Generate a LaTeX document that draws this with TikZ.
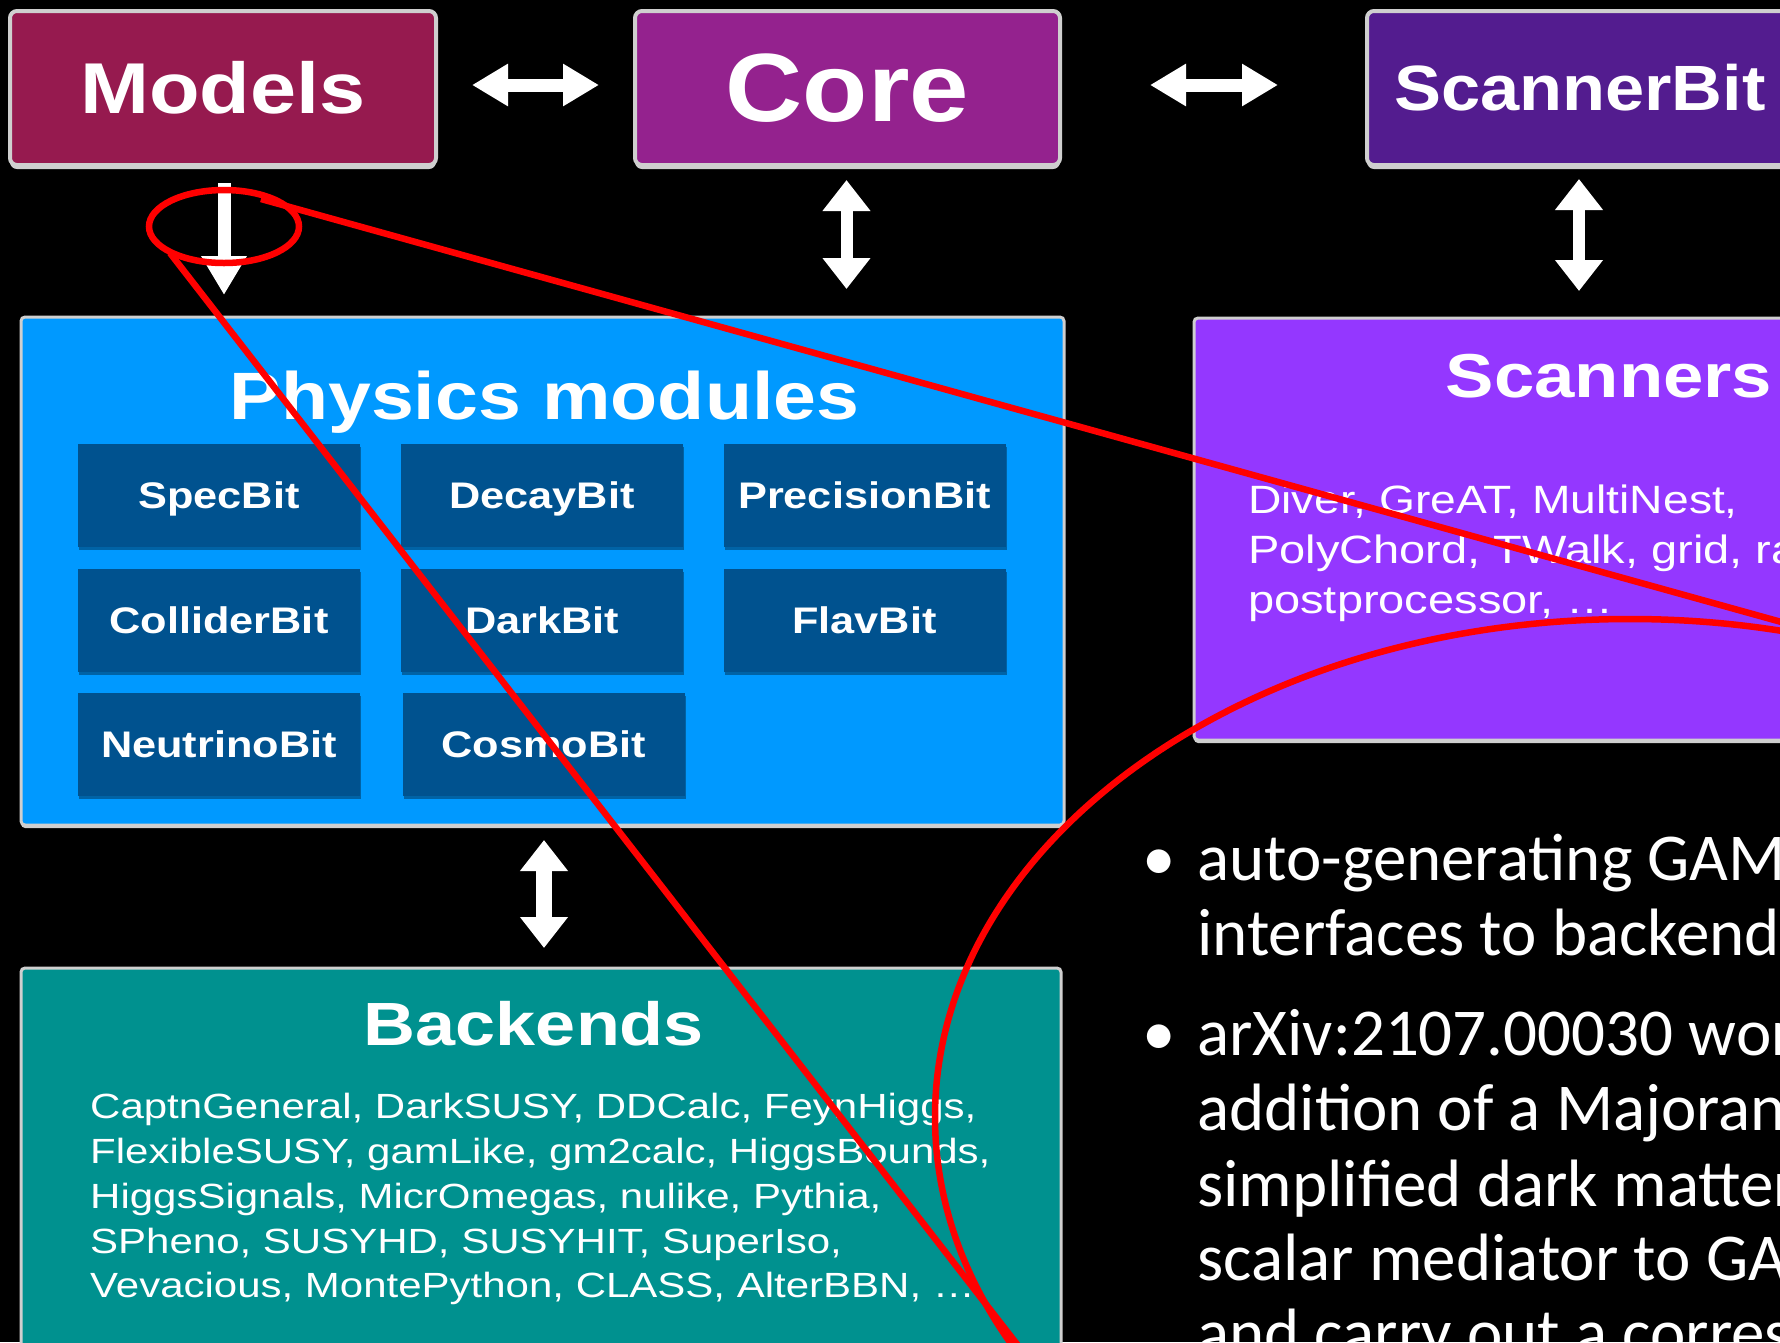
\documentclass[tikz,border=0pt]{standalone}
\usepackage{fontspec}
\setmainfont{Liberation Sans}
\newfontfamily\calib{Carlito}
\usetikzlibrary{arrows.meta,shadows,calc,shapes.geometric}
\definecolor{modelsC}{HTML}{961A4F}
\definecolor{coreC}{HTML}{94228E}
\definecolor{sbitC}{HTML}{531C8F}
\definecolor{physC}{HTML}{0099FF}
\definecolor{modC}{HTML}{00528F}
\definecolor{scanC}{HTML}{9437FF}
\definecolor{backC}{HTML}{00918F}
\definecolor{edgegray}{HTML}{CFCFCF}
\definecolor{lensred}{HTML}{FF0000}
\newcommand{\hstr}[2]{\scalebox{#1}[1]{#2}}
\newcommand{\fsz}[1]{\fontsize{#1}{#1}\selectfont}
\begin{document}
\begin{tikzpicture}[x=1pt,y=-1pt,
  topbox/.style={draw=edgegray, line width=4pt, rounded corners=7pt, inner sep=0pt, outer sep=0pt,
    text=white, minimum height=154pt,
    drop shadow={shadow xshift=0pt,shadow yshift=-4pt,opacity=1,fill=edgegray}},
  bigbox/.style={draw=edgegray, line width=3pt, rounded corners=4pt, inner sep=0pt, outer sep=0pt,
    drop shadow={shadow xshift=0pt,shadow yshift=-3pt,opacity=1,fill=edgegray}},
  modbox/.style={fill=modC, minimum width=282pt, minimum height=103pt, inner sep=0pt, outer sep=0pt,
    text=white, text depth=0pt,
    drop shadow={shadow xshift=1pt,shadow yshift=-3pt,opacity=0.35,fill=black},
    font=\fsz{37}\bfseries},
  ttl/.style={anchor=base, text=white, inner sep=0pt},
  bodyline/.style={anchor=base west, text=white, inner sep=0pt},
  bulletline/.style={anchor=base west, text=white, inner sep=0pt, font=\calib\fsz{67}},
  hfat/.style={draw=white, line width=13pt, {Triangle[length=36pt,width=40pt]}-{Triangle[length=36pt,width=40pt]}},
  vfat/.style={draw=white, line width=12pt, {Triangle[length=31pt,width=46pt]}-{Triangle[length=31pt,width=46pt]}},
  downfat/.style={draw=white, line width=13pt, -{Triangle[length=39pt,width=43pt]}},
  lens/.style={draw=lensred, line width=6.5pt}
]
\useasboundingbox (0,0) rectangle (1780,1342);
\clip (0,0) rectangle (1780,1342);
\fill[black] (0,0) rectangle (1780,1342);

% top row
\node[topbox, fill=modelsC, minimum width=426pt] (models) at (223,88) {\fsz{72}\bfseries\hstr{1.15}{Models}};
\node[topbox, fill=coreC, minimum width=425pt] (core) at (847.5,88) {\fsz{97}\bfseries\hstr{1.1}{Core}};
\node[topbox, fill=sbitC, minimum width=426pt] (sbit) at (1580,88) {\fsz{64}\bfseries\hstr{1.1}{ScannerBit}};

% big boxes
\node[bigbox, fill=physC, minimum width=1043pt, minimum height=508pt] (phys) at (542.5,571) {};
\node[bigbox, fill=scanC, minimum width=706pt, minimum height=422pt] (scan) at (1547,529) {};
\node[bigbox, fill=backC, minimum width=1040pt, minimum height=432pt] (back) at (541,1184) {};

% physics modules
\node[ttl, font=\fsz{67}\bfseries] (physT) at (544.5,419) {\hstr{1.15}{Physics modules}};
\node[modbox] (m1) at (219,495.5) {\hstr{1.17}{SpecBit}};
\node[modbox] (m2) at (542,495.5) {\hstr{1.17}{DecayBit}};
\node[modbox] (m3) at (864.5,495.5) {\hstr{1.17}{PrecisionBit}};
\node[modbox] (m4) at (219,620) {\hstr{1.17}{ColliderBit}};
\node[modbox] (m5) at (542,620) {\hstr{1.17}{DarkBit}};
\node[modbox] (m6) at (864.5,620) {\hstr{1.17}{FlavBit}};
\node[modbox] (m7) at (219,744.5) {\hstr{1.17}{NeutrinoBit}};
\node[modbox] (m8) at (543.5,744.5) {\hstr{1.17}{CosmoBit}};

% scanners
\node[ttl, font=\fsz{62}\bfseries] (scanT) at (1609,397) {\hstr{1.17}{Scanners}};
\node[bodyline, font=\fsz{39.5}] (s1) at (1248,513) {\hstr{1.17}{Diver, GreAT, MultiNest,}};
\node[bodyline, font=\fsz{39.5}] (s2) at (1248,563) {\hstr{1.19}{PolyChord, TWalk, grid, random,}};
\node[bodyline, font=\fsz{39.5}] (s3) at (1248,613) {\hstr{1.19}{postprocessor, …}};

% backends
\node[ttl, font=\fsz{61}\bfseries] (backT) at (534,1045) {\hstr{1.18}{Backends}};
\node[bodyline, font=\fsz{35}] (b1) at (90,1118) {\hstr{1.2}{CaptnGeneral, DarkSUSY, DDCalc, FeynHiggs,}};
\node[bodyline, font=\fsz{35}] (b2) at (90,1163) {\hstr{1.2}{FlexibleSUSY, gamLike, gm2calc, HiggsBounds,}};
\node[bodyline, font=\fsz{35}] (b3) at (90,1208) {\hstr{1.2}{HiggsSignals, MicrOmegas, nulike, Pythia,}};
\node[bodyline, font=\fsz{35}] (b4) at (90,1253) {\hstr{1.2}{SPheno, SUSYHD, SUSYHIT, SuperIso,}};
\node[bodyline, font=\fsz{35}] (b5) at (90,1297) {\hstr{1.2}{Vevacious, MontePython, CLASS, AlterBBN, …}};

% arrows
\draw[hfat, shorten <=36pt, shorten >=36pt] ([yshift=3pt]models.east) -- ([yshift=3pt]core.west);
\draw[hfat, shorten <=90pt, shorten >=89pt] ([yshift=3pt]core.east) -- ([yshift=3pt]sbit.west);
\draw[downfat, shorten <=18pt, shorten >=22pt] ([xshift=1pt]models.south) -- ([xshift=1pt]models.south |- phys.north);
\draw[vfat, shorten <=15pt, shorten >=28pt] ([xshift=-1pt]core.south) -- ([xshift=-1pt]core.south |- phys.north);
\draw[vfat, shorten <=14pt, shorten >=27pt] ([xshift=-1pt]sbit.south) -- ([xshift=-1pt]sbit.south |- scan.north);
\draw[vfat, line width=16pt, shorten <=15pt, shorten >=20pt] ([xshift=1.5pt]phys.south) -- ([xshift=1.5pt]phys.south |- back.north);

% bullets
\node[bulletline, anchor=base] (d1) at (1159,880) {•};
\node[bulletline] (t1) at (1197,880) {auto-generating GAMBIT};
\node[bulletline] (t2) at (1197,955) {interfaces to backends};
\node[bulletline, anchor=base] (d2) at (1159,1055) {•};
\node[bulletline] (t3) at (1197,1055) {arXiv:2107.00030 works on};
\node[bulletline] (t4) at (1197,1130) {addition of a Majorana};
\node[bulletline] (t5) at (1197,1206) {simplified dark matter};
\node[bulletline] (t6) at (1197,1280) {scalar mediator to GAMBIT};
\node[bulletline] (t7) at (1197,1355) {and carry out a corresponding};

% zoom lens
\node[lens, ellipse, minimum width=150pt, minimum height=73pt, inner sep=0pt] (small) at (224,226.5) {};
\node[lens, ellipse, minimum width=1390pt, minimum height=996pt, inner sep=0pt] (large) at (1630,1117) {};
\coordinate (u1) at (261,199);
\coordinate (u2) at (1900,655);
\coordinate (l1) at (170,253);
\coordinate (l2) at (1037,1370);
\draw[lens] (u1) -- (u2);
\draw[lens] (l1) -- (l2);
\end{tikzpicture}
\end{document}
